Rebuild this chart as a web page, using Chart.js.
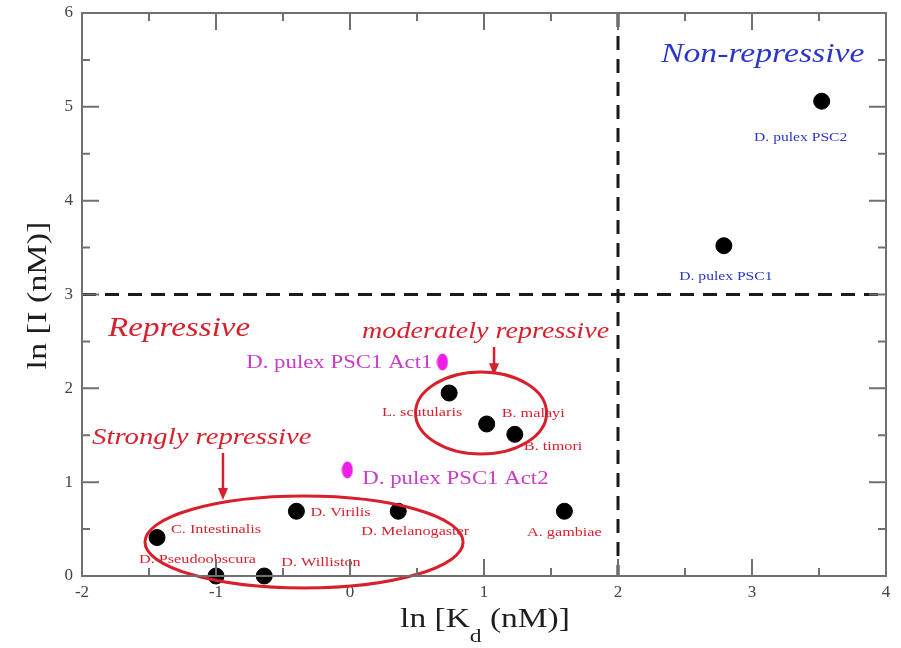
<!DOCTYPE html>
<html><head><meta charset="utf-8">
<script src="https://cdn.jsdelivr.net/npm/chart.js@4/dist/chart.umd.min.js"></script>
<style>html,body{margin:0;padding:0;background:#fff}#wrap{width:901px;height:648px;position:relative}</style>
</head><body><div id="wrap"><canvas id="c" width="901" height="648"></canvas></div>
<script>
// ---- data ----
const speciesNames = ['D. pulex PSC2','D. pulex PSC1','L. scutularis','B. malayi','B. timori','A. gambiae','D. Virilis','D. Melanogaster','C. Intestinalis','D. Pseudoobscura','D. Williston'];
const lnKd = [3.52, 2.79, 0.74, 1.02, 1.23, 1.60, -0.40, 0.36, -1.44, -1.00, -0.64];
const lnI  = [5.06, 3.52, 1.95, 1.62, 1.51, 0.69, 0.69, 0.69, 0.41, 0.00, 0.00];
const activatorNames = ['D. pulex PSC1 Act1','D. pulex PSC1 Act2'];
const activatorLnKd = [0.69, -0.02];
const activatorLnI  = [2.28, 1.13];
const xTicks = [-2, -1, 0, 1, 2, 3, 4];
const yTicks = [0, 1, 2, 3, 4, 5, 6];
const thresholdKd = 2;
const thresholdI = 3;
const regionNames = ['Non-repressive','Repressive','moderately repressive','Strongly repressive'];
const xTitle = ['ln [K', 'd', ' (nM)]'];
const yTitle = 'ln [I (nM)]';

// ---- styling / annotation layout (not data) ----
const RED = '#d81f2c', BLUE = '#2a36c8', MAG = '#c83cc8', MAGPT = '#ee1ee8';
const SERIF = "'Liberation Serif', 'DejaVu Serif', serif";
const SX = 1.2;
const pointLabelStyle = {
  'D. pulex PSC2': {dx:-21, dy:36, align:'center', color:BLUE, size:13},
  'D. pulex PSC1': {dx:2, dy:31, align:'center', color:BLUE, size:13},
  'L. scutularis': {dx:-27, dy:19, align:'center', color:RED, size:13.5},
  'B. malayi': {dx:15, dy:-11, align:'left', color:RED, size:13.5},
  'B. timori': {dx:9, dy:12, align:'left', color:RED, size:13.5},
  'A. gambiae': {dx:0, dy:21, align:'center', color:RED, size:13.5},
  'D. Virilis': {dx:14, dy:1, align:'left', color:RED, size:13.5},
  'D. Melanogaster': {dx:-37, dy:20, align:'left', color:RED, size:13.5},
  'C. Intestinalis': {dx:14, dy:-8, align:'left', color:RED, size:13.5},
  'D. Pseudoobscura': {dx:-77, dy:-17, align:'left', color:RED, size:13.5},
  'D. Williston': {dx:17, dy:-14, align:'left', color:RED, size:13.5},
  'D. pulex PSC1 Act1': {dx:-10, dy:1, align:'right', color:MAG, size:19},
  'D. pulex PSC1 Act2': {dx:15, dy:9, align:'left', color:MAG, size:19}
};
const regionLabelStyle = {
  'Non-repressive': {x:2.32, y:5.55, size:27, color:BLUE},
  'Repressive': {x:-1.806, y:2.633, size:26.5, color:RED},
  'moderately repressive': {x:0.09, y:2.60, size:22.5, color:RED},
  'Strongly repressive': {x:-1.925, y:1.47, size:23, color:RED}
};
const ellipses = [
  {cx:-0.343, cy:0.362, rx:1.187, ry:0.49},
  {cx:0.978, cy:1.738, rx:0.489, ry:0.437}
];
const arrows = [
  {x:-0.948, y0:1.311, y1:0.81},
  {x:1.075, y0:2.44, y1:2.14}
];

// magenta elliptical marker
const magMarker = document.createElement('canvas');
magMarker.width = 12; magMarker.height = 18;
(function(){const c = magMarker.getContext('2d'); c.fillStyle = MAGPT; c.beginPath(); c.ellipse(6,9,5.5,8.5,0,0,Math.PI*2); c.fill();})();

function drawText(ctx, text, x, y, font, color, align, sx) {
  ctx.save();
  ctx.font = font; ctx.fillStyle = color; ctx.textBaseline = 'middle'; ctx.textAlign = 'left';
  const w = ctx.measureText(text).width * sx;
  const left = align === 'center' ? x - w/2 : (align === 'right' ? x - w : x);
  ctx.translate(left, y); ctx.scale(sx, 1); ctx.fillText(text, 0, 0);
  ctx.restore();
}

const decor = {
  id: 'decor',
  beforeDatasetsDraw(chart) {
    const {ctx, chartArea: a, scales: {x, y}} = chart;
    ctx.save();
    ctx.strokeStyle = '#1a1a1a'; ctx.lineWidth = 3; ctx.setLineDash([14, 9]);
    const px = x.getPixelForValue(thresholdKd), py = y.getPixelForValue(thresholdI);
    ctx.beginPath(); ctx.moveTo(px, a.top); ctx.lineTo(px, a.bottom); ctx.stroke();
    ctx.beginPath(); ctx.moveTo(a.left, py); ctx.lineTo(a.right, py); ctx.stroke();
    ctx.restore();
    // labels
    const all = [];
    speciesNames.forEach((n, i) => all.push([n, lnKd[i], lnI[i]]));
    activatorNames.forEach((n, i) => all.push([n, activatorLnKd[i], activatorLnI[i]]));
    all.forEach(([n, vx, vy]) => {
      const s = pointLabelStyle[n];
      drawText(ctx, n, x.getPixelForValue(vx) + s.dx, y.getPixelForValue(vy) + s.dy, s.size + 'px ' + SERIF, s.color, s.align, SX);
    });
    regionNames.forEach(n => {
      const s = regionLabelStyle[n];
      drawText(ctx, n, x.getPixelForValue(s.x), y.getPixelForValue(s.y), 'italic ' + s.size + 'px ' + SERIF, s.color, 'left', 1.25);
    });
  },
  afterDatasetsDraw(chart) {
    const {ctx, chartArea: a, scales: {x, y}} = chart;
    ctx.save();
    ctx.strokeStyle = RED; ctx.lineWidth = 3;
    ellipses.forEach(e => {
      const cx = x.getPixelForValue(e.cx), cy = y.getPixelForValue(e.cy);
      const rx = Math.abs(x.getPixelForValue(e.cx + e.rx) - cx), ry = Math.abs(y.getPixelForValue(e.cy + e.ry) - cy);
      ctx.beginPath(); ctx.ellipse(cx, cy, rx, ry, 0, 0, Math.PI*2); ctx.stroke();
    });
    ctx.fillStyle = RED; ctx.lineWidth = 2.5;
    arrows.forEach(ar => {
      const px = x.getPixelForValue(ar.x), p0 = y.getPixelForValue(ar.y0), p1 = y.getPixelForValue(ar.y1);
      ctx.beginPath(); ctx.moveTo(px, p0); ctx.lineTo(px, p1 - 10); ctx.stroke();
      ctx.beginPath(); ctx.moveTo(px - 5, p1 - 12); ctx.lineTo(px + 5, p1 - 12); ctx.lineTo(px, p1); ctx.closePath(); ctx.fill();
    });
    // frame and inner ticks
    ctx.strokeStyle = '#707070'; ctx.lineWidth = 2;
    ctx.strokeRect(a.left, a.top, a.right - a.left, a.bottom - a.top);
    for (let v = x.min; v <= x.max + 1e-9; v += 0.5) {
      const p = x.getPixelForValue(v), L = xTicks.includes(v) ? 17 : 8;
      ctx.beginPath(); ctx.moveTo(p, a.bottom); ctx.lineTo(p, a.bottom - L); ctx.moveTo(p, a.top); ctx.lineTo(p, a.top + L); ctx.stroke();
    }
    for (let v = y.min; v <= y.max + 1e-9; v += 0.5) {
      const p = y.getPixelForValue(v), L = yTicks.includes(v) ? 17 : 8;
      ctx.beginPath(); ctx.moveTo(a.left, p); ctx.lineTo(a.left + L, p); ctx.moveTo(a.right, p); ctx.lineTo(a.right - L, p); ctx.stroke();
    }
    // x axis title with subscript (horizontally stretched like the source)
    const TS = 1.24;
    ctx.fillStyle = '#1e1e1e'; ctx.textBaseline = 'alphabetic'; ctx.textAlign = 'left';
    const f1 = '27px ' + SERIF, f2 = '19px ' + SERIF;
    ctx.font = f1; const w1 = ctx.measureText(xTitle[0]).width, w3 = ctx.measureText(xTitle[2]).width;
    ctx.font = f2; const w2 = ctx.measureText(xTitle[1]).width;
    const cx = (a.left + a.right) / 2 + 1;
    const tot = (w1 + w2 + w3) * TS;
    ctx.save();
    ctx.translate(cx - tot / 2, 627); ctx.scale(TS, 1);
    ctx.font = f1; ctx.fillText(xTitle[0], 0, 0);
    ctx.font = f2; ctx.fillText(xTitle[1], w1, 15);
    ctx.font = f1; ctx.fillText(xTitle[2], w1 + w2, 0);
    ctx.restore();
    // y axis title
    ctx.save();
    ctx.translate(39, (a.top + a.bottom) / 2 + 1); ctx.rotate(-Math.PI / 2);
    ctx.font = '28px ' + SERIF; ctx.textBaseline = 'middle';
    const wy = ctx.measureText(yTitle).width * 1.22;
    ctx.translate(-wy / 2, 0); ctx.scale(1.22, 1);
    ctx.fillText(yTitle, 0, 0);
    ctx.restore();
    ctx.restore();
  }
};

new Chart(document.getElementById('c'), {
  type: 'scatter',
  data: {
    datasets: [
      {label: 'Repressors', data: lnKd.map((v, i) => ({x: v, y: lnI[i]})), backgroundColor: '#000', borderColor: '#000', pointRadius: 8, pointHoverRadius: 8},
      {label: 'Activators', data: activatorLnKd.map((v, i) => ({x: v, y: activatorLnI[i]})), pointStyle: magMarker, backgroundColor: MAGPT}
    ]
  },
  options: {
    responsive: false, animation: false, devicePixelRatio: 1,
    clip: false,
    layout: {padding: {top: 13, right: 15, left: 0, bottom: 0}},
    plugins: {legend: {display: false}, tooltip: {enabled: false}},
    scales: {
      x: {
        type: 'linear', min: -2, max: 4,
        grid: {display: false, drawTicks: false}, border: {display: false},
        ticks: {stepSize: 0.5, autoSkip: false, maxRotation: 0, padding: 6, color: '#444',
          font: {family: SERIF, size: 17},
          callback: v => xTicks.includes(v) ? String(v) : ''},
        afterFit: s => { s.height = 72; s.paddingLeft = 0; s.paddingRight = 0; }
      },
      y: {
        type: 'linear', min: 0, max: 6,
        grid: {display: false, drawTicks: false}, border: {display: false},
        ticks: {stepSize: 0.5, autoSkip: false, padding: 9, color: '#444',
          font: {family: SERIF, size: 17},
          callback: v => yTicks.includes(v) ? String(v) : ''},
        afterFit: s => { s.width = 82; s.paddingTop = 0; s.paddingBottom = 0; }
      }
    }
  },
  plugins: [decor]
});
</script></body></html>
